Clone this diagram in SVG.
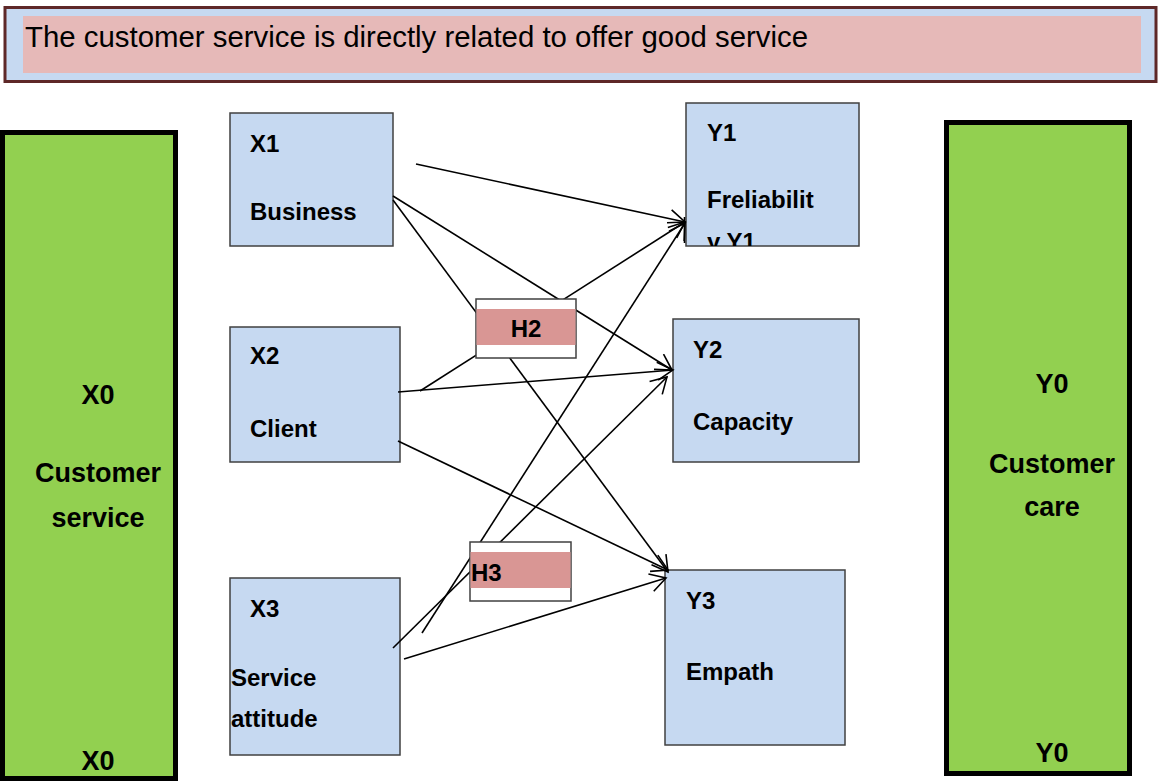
<svg xmlns="http://www.w3.org/2000/svg" width="1159" height="782" viewBox="0 0 1159 782">
<style>
.node{fill:#C6D9F1;stroke:#404040;stroke-width:1.5}
.big{fill:#92D050;stroke:#000;stroke-width:5}
.t{font-family:"Liberation Sans",Arial,sans-serif;font-weight:bold;font-size:24px;fill:#000}
.g{font-family:"Liberation Sans",Arial,sans-serif;font-weight:bold;font-size:27px;fill:#000;text-anchor:middle}
.c{fill:none;stroke:#000;stroke-width:1.6}
.hb{fill:#fff;stroke:#404040;stroke-width:1.5}
.hp{fill:#D99694}
</style>
<defs>
<marker id="arr" markerUnits="userSpaceOnUse" viewBox="0 0 20 20" markerWidth="20" markerHeight="20" refX="18" refY="10" orient="auto">
<path d="M2.4,1 L18,10 L2.4,19" fill="none" stroke="#000" stroke-width="1.6"/>
</marker>
<clipPath id="y1clip"><rect x="686" y="103" width="173" height="143"/></clipPath>
</defs>
<rect width="1159" height="782" fill="#fff"/>

<g id="banner">
<rect x="5" y="7.5" width="1151" height="74" fill="#C6D9F1" stroke="#5E2828" stroke-width="3"/>
<rect x="23" y="16" width="1118" height="57" fill="#E6B9B8"/>
<text x="25" y="47" font-family="'Liberation Sans',Arial,sans-serif" font-size="29" fill="#000" textLength="783" lengthAdjust="spacingAndGlyphs">The customer service is directly related to offer good service</text>
</g>

<g id="X0">
<rect class="big" x="2.5" y="132.5" width="173" height="646"/>
<text class="g" x="98" y="404">X0</text>
<text class="g" x="98" y="482">Customer</text>
<text class="g" x="98" y="527">service</text>
<text class="g" x="98" y="770">X0</text>
</g>

<g id="Y0">
<rect class="big" x="946.5" y="122.5" width="183" height="651"/>
<text class="g" x="1052" y="393">Y0</text>
<text class="g" x="1052" y="473">Customer</text>
<text class="g" x="1052" y="516">care</text>
<text class="g" x="1052" y="762">Y0</text>
</g>

<g id="X1">
<rect class="node" x="230" y="113" width="163" height="133"/>
<text class="t" x="250" y="152">X1</text>
<text class="t" x="250" y="220">Business</text>
</g>
<g id="X2">
<rect class="node" x="230" y="327" width="170" height="135"/>
<text class="t" x="250" y="364">X2</text>
<text class="t" x="250" y="437">Client</text>
</g>
<g id="X3">
<rect class="node" x="230" y="578" width="170" height="177"/>
<text class="t" x="250" y="617">X3</text>
<text class="t" x="231" y="686">Service</text>
<text class="t" x="231" y="727">attitude</text>
</g>
<g id="Y1">
<rect class="node" x="686" y="103" width="173" height="143"/>
<text class="t" x="707" y="141">Y1</text>
<text class="t" x="707" y="208">Freliabilit</text>
<text class="t" x="707" y="250" clip-path="url(#y1clip)">y Y1</text>
</g>
<g id="Y2">
<rect class="node" x="673" y="319" width="186" height="143"/>
<text class="t" x="693" y="358">Y2</text>
<text class="t" x="693" y="430">Capacity</text>
</g>
<g id="Y3">
<rect class="node" x="665" y="570" width="180" height="175"/>
<text class="t" x="686" y="609">Y3</text>
<text class="t" x="686" y="680">Empath</text>
</g>

<g id="connectors">
<line class="c" x1="416" y1="164" x2="685" y2="222" marker-end="url(#arr)"/>
<line class="c" x1="393" y1="196" x2="672" y2="370" marker-end="url(#arr)"/>
<line class="c" x1="393" y1="200" x2="668" y2="572" marker-end="url(#arr)"/>
<line class="c" x1="420" y1="391" x2="685" y2="222" marker-end="url(#arr)"/>
<line class="c" x1="398" y1="392" x2="673" y2="370" marker-end="url(#arr)"/>
<line class="c" x1="398" y1="441" x2="668" y2="570" marker-end="url(#arr)"/>
<line class="c" x1="393" y1="648" x2="667" y2="377" marker-end="url(#arr)"/>
<line class="c" x1="422" y1="633" x2="685" y2="223" marker-end="url(#arr)"/>
<line class="c" x1="404" y1="659" x2="666" y2="578" marker-end="url(#arr)"/>
<line class="c" x1="684.5" y1="217" x2="684.5" y2="243"/>
</g>

<g id="H2">
<rect class="hb" x="476" y="299" width="100" height="59"/>
<rect class="hp" x="476.5" y="309" width="99" height="36"/>
<text class="t" x="526" y="337" text-anchor="middle">H2</text>
</g>
<g id="H3">
<rect class="hb" x="470" y="542" width="101" height="59"/>
<rect class="hp" x="470.5" y="552" width="100" height="36"/>
<text class="t" x="471" y="581">H3</text>
</g>
</svg>
